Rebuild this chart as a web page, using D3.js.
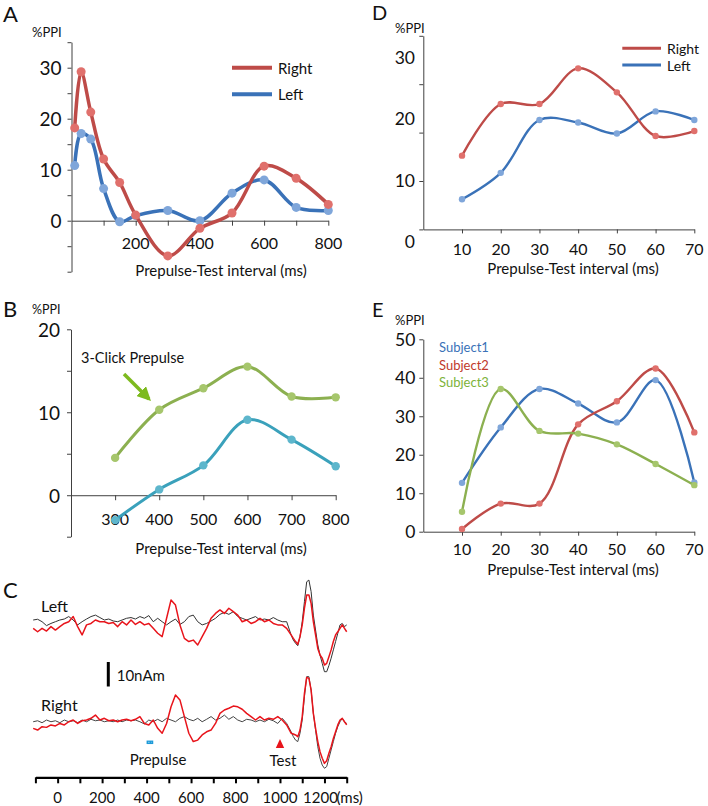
<!DOCTYPE html>
<html><head><meta charset="utf-8">
<script src="https://cdn.jsdelivr.net/npm/d3@7"></script>
<style>body{margin:0;background:#fff}svg{display:block}</style>
</head><body><svg id="c" width="708" height="806"></svg>
<script>
// ---------------- DATA ----------------
// Panel A
const aInterval = [10,30,60,100,150,200,300,400,500,600,700,800];
const aRight = [18.2,29.2,21.3,12.1,7.5,1.1,-6.9,-1.5,1.5,10.7,8.3,3.2];
const aLeft  = [10.8,17.1,16.0,6.3,-0.2,1.0,2.0,0.0,5.4,8.0,2.6,2.0];
// Panel B
const bInterval = [300,400,500,600,700,800];
const bThreeClick = [4.5,10.3,12.9,15.5,11.9,11.8];
const bSingle     = [-3.0,0.7,3.6,9.1,6.7,3.5];
// Panel D
const dInterval = [10,20,30,40,50,60,70];
const dRight = [14.0,22.4,22.4,28.2,24.3,17.2,18.0];
const dLeft  = [6.9,11.2,19.8,19.4,17.6,21.2,19.8];
// Panel E
const eInterval = [10,20,30,40,50,60,70];
const eSubject1 = [12.7,27.1,37.1,33.3,28.4,39.4,12.8];
const eSubject2 = [0.7,7.3,7.3,27.9,33.9,42.4,25.8];
const eSubject3 = [5.2,37.1,26.2,25.5,22.7,17.6,12.1];
// Panel C (source waveforms, nAm) sampled times (ms)
const cTimes = d3.range(-110, 1040, 20).concat(d3.range(1050, 1301, 10));
const cLeftBlack = [0,0.3,-0.7,-2.3,-1.4,-0.7,0,0.4,1.4,0,-2.0,-0.7,0.4,1.4,2.0,1.0,0,0.4,-0.4,-0.7,0,0.7,1.0,0.4,1.4,0.7,1.8,-0.7,0.7,-0.7,-2.0,-0.7,0.4,-1.8,-0.7,1.4,2.0,-0.7,-2.0,-1.4,-0.4,0.7,2.3,3.1,2.3,3.4,1.4,0.7,0,0.7,1.4,0,0.4,0,1.0,0,-0.7,-0.7,
  -6.1,-8.2,-9.5,-10.5,-6.8,-0.7,7.5,15.6,16.3,11.6,2.0,-4.1,-10.2,-14.3,-17.7,-21.1,-21.1,-18.6,-15.6,-12.2,-8.8,-5.4,-2.0,-1.4,-2.7,-2.0];
const cLeftRed = [-3.4,-4.8,-3.4,-4.5,-2.7,-4.1,-2.7,-1.4,-0.7,1.4,-2.7,-6.1,-2.0,-1.4,0,-0.7,-0.7,-1.4,-1.0,-2.7,-0.7,-2.0,0,-1.8,-0.7,-2.0,-1.4,-3.4,-5.4,-6.8,0.7,8.2,6.1,-2.0,-7.5,-8.8,-8.2,-10.2,-6.8,-3.4,0.7,2.7,4.1,2.7,4.8,3.4,2.0,-0.7,0,-1.4,-0.7,0.7,-0.7,0,-1.4,-2.0,-2.0,-3.4,
  -6.1,-7.5,-8.8,-9.9,-6.8,-2.0,4.8,10.2,10.2,6.8,-0.7,-6.1,-11.6,-14.3,-15.6,-18.4,-17.7,-15.0,-12.2,-8.8,-6.1,-4.8,-3.4,-2.0,-3.4,-4.8];
const cRightBlack = [-0.3,0.1,-0.7,0.4,-0.3,0.1,-0.7,0.4,-0.3,0.1,-0.7,0.4,-0.3,0.7,0.1,0.4,-0.3,0.1,-0.3,0.4,-0.3,0.4,0.1,0.4,-0.3,-1.2,0.4,-0.3,0.7,-0.3,1.1,0.4,-0.3,1.1,1.8,0.7,0.1,1.1,-0.3,0.7,1.8,0.4,1.1,2.4,0.7,1.8,0.4,-0.3,0.7,0.4,-0.3,0.4,-0.3,0.7,0.1,-1.0,1.1,-1.0,
  -4.4,-6.4,-7.8,-8.4,-5.0,0.4,9.9,18.1,18.1,12.6,3.1,-3.7,-10.5,-15.2,-18.0,-19.3,-18.6,-15.2,-11.8,-8.4,-5.0,-2.3,-0.3,1.1,-0.3,-1.0];
const cRightRed = [-3.0,-3.7,-2.3,-2.6,-1.6,-2.0,-1.0,-1.6,-0.3,0.4,-1.0,0.1,0.4,1.1,2.4,0.4,1.1,0.1,0.4,-0.3,0.4,0.7,0.1,0.7,1.8,-1.0,-1.6,0.4,-3.0,-5.0,-1.0,5.8,10.6,8.6,1.8,-5.0,-8.4,-7.8,-5.7,-4.4,-3.7,-1.0,3.1,4.5,5.2,6.1,5.8,4.8,3.1,1.8,0.4,1.8,0.4,1.1,0.7,1.8,0.4,-1.6,
  -5.0,-5.3,-5.7,-6.4,-3.7,1.8,11.3,17.8,17.4,12.6,3.1,-3.0,-8.4,-12.5,-15.2,-17.3,-16.2,-13.2,-10.5,-7.1,-4.4,-1.6,0.4,1.1,-0.3,-1.6];
const cAxisTicks = d3.range(-100, 1301, 100);
const cAxisLabels = [0,200,400,600,800,1000,1200];
const cPrepulse = [400, 430];
const cTest = 1000;
const cScaleBar = 10; // nAm

// ---------------- DRAW ----------------
const FONT = "Lato, 'Open Sans', sans-serif";
const AXC = "#404040";
const svg = d3.select("#c").style("font-family", FONT);
svg.append("rect").attr("width",708).attr("height",806).attr("fill","#fff");

const COL = {
  redL:"#BE4B48", redM:"#E0706C",
  blueL:"#3A72B8", blueM:"#7FA6DA",
  greenL:"#8CB050", greenM:"#A6C66C",
  tealL:"#3AA1BB", tealM:"#5DB6CC"
};

function txt(x, y, s, size, opts={}) {
  return svg.append("text").attr("x",x).attr("y",y).text(s)
    .attr("font-size",size).attr("fill",opts.fill||"#111")
    .attr("text-anchor",opts.anchor||"start")
    .attr("dominant-baseline",opts.base||"auto");
}

function yAxis(x0, y, ticks, labelVals, fs, gap) {
  const g = svg.append("g").attr("transform",`translate(${x0},0)`)
    .call(d3.axisLeft(y).tickValues(ticks).tickSize(4).tickSizeOuter(0).tickFormat(""));
  g.select(".domain").attr("stroke",AXC);
  g.selectAll(".tick line").attr("stroke",AXC);
  labelVals.forEach(v => txt(x0-gap, y(v), v, fs, {anchor:"end", base:"central"}));
}
function xAxis(y0, x, ticks, labelVals, fs, off, tsize=5) {
  const g = svg.append("g").attr("transform",`translate(0,${y0})`)
    .call(d3.axisBottom(x).tickValues(ticks).tickSize(tsize).tickSizeOuter(0).tickFormat(""));
  g.select(".domain").attr("stroke",AXC);
  g.selectAll(".tick line").attr("stroke",AXC);
  labelVals.forEach(v => txt(x(v), y0+off, v, fs, {anchor:"middle", base:"central"}));
  return g;
}
function series(xs, ys, x, y, lc, mc, lw, r) {
  const pts = xs.map((d,i)=>[x(d), y(ys[i])]);
  svg.append("path").attr("d", d3.line().curve(d3.curveCatmullRom.alpha(0.5))(pts))
    .attr("fill","none").attr("stroke",lc).attr("stroke-width",lw).attr("stroke-linecap","round");
  svg.append("g").selectAll("circle").data(pts).join("circle")
    .attr("cx",d=>d[0]).attr("cy",d=>d[1]).attr("r",r).attr("fill",mc);
}

// ---- Panel A ----
{
  const x = d3.scaleLinear().domain([0,800]).range([71.5,328.3]);
  const y = d3.scaleLinear().domain([-10,35]).range([271.7,42.2]);
  yAxis(71.5, y, d3.range(-10,36,5), [0,10,20,30], 19, 10);
  xAxis(y(0), x, d3.range(100,801,100), [200,400,600,800], 16, 22);
  series(aInterval, aLeft, x, y, COL.blueL, COL.blueM, 3.5, 4.5);
  series(aInterval, aRight, x, y, COL.redL, COL.redM, 3.5, 4.5);
  txt(3, 22, "A", 22);
  txt(32, 37, "%PPI", 13);
  txt(221, 276, "Prepulse-Test interval (ms)", 15, {anchor:"middle"});
  [["Right",COL.redL,67.7],["Left",COL.blueL,94.3]].forEach(([n,c,yy])=>{
    svg.append("line").attr("x1",232).attr("x2",272).attr("y1",yy).attr("y2",yy).attr("stroke",c).attr("stroke-width",4);
    txt(278, yy, n, 15, {base:"central"});
  });
}
// ---- Panel B ----
{
  const x = d3.scaleLinear().domain([200,800]).range([71,335.7]);
  const y = d3.scaleLinear().domain([-5,20]).range([536.7,329.3]);
  yAxis(71, y, d3.range(-5,21,5), [0,10,20], 19, 11);
  xAxis(y(0), x, d3.range(300,801,100), d3.range(300,801,100), 16, 23);
  series(bInterval, bSingle, x, y, COL.tealL, COL.tealM, 3, 4.2);
  series(bInterval, bThreeClick, x, y, COL.greenL, COL.greenM, 3, 4.2);
  txt(3, 317, "B", 22);
  txt(32, 314, "%PPI", 12.5);
  txt(221, 554, "Prepulse-Test interval (ms)", 15, {anchor:"middle"});
  txt(81, 363, "3-Click Prepulse", 14.5);
  const defs = svg.append("defs");
  defs.append("marker").attr("id","ga").attr("viewBox","0 0 10 10").attr("refX",8).attr("refY",5)
    .attr("markerWidth",4).attr("markerHeight",4).attr("orient","auto")
    .append("path").attr("d","M0,0L10,5L0,10z").attr("fill","#7DBA1E");
  svg.append("line").attr("x1",124).attr("y1",374).attr("x2",149).attr("y2",399)
    .attr("stroke","#7DBA1E").attr("stroke-width",3.5).attr("marker-end","url(#ga)");
}
// ---- Panel D ----
{
  const x = d3.scaleLinear().domain([0,70]).range([423.3,694.3]);
  const y = d3.scaleLinear().domain([2.0,33.5]).range([229.4,35.8]);
  yAxis(423.3, y, d3.range(0,5).map(i=>2+i*7.875), [], 17, 8);
  [0,10,20,30].forEach(v => txt(415, y(v), v, 17.5, {anchor:"end", base:"central"}));
  xAxis(y(2.0), x, d3.range(10,71,10), d3.range(10,71,10), 16, 19, 4);
  series(dInterval, dLeft, x, y, COL.blueL, COL.blueM, 2.4, 3.2);
  series(dInterval, dRight, x, y, COL.redL, COL.redM, 2.4, 3.2);
  txt(372, 20, "D", 20);
  txt(395, 33, "%PPI", 13);
  txt(573, 274, "Prepulse-Test interval (ms)", 15, {anchor:"middle"});
  [["Right",COL.redL,48.3],["Left",COL.blueL,65]].forEach(([n,c,yy])=>{
    svg.append("line").attr("x1",622.3).attr("x2",661).attr("y1",yy).attr("y2",yy).attr("stroke",c).attr("stroke-width",3);
    txt(667, yy, n, 14, {base:"central"});
  });
}
// ---- Panel E ----
{
  const x = d3.scaleLinear().domain([0,70]).range([423.3,694.3]);
  const y = d3.scaleLinear().domain([0,50]).range([531.7,339.3]);
  yAxis(423.3, y, d3.range(0,51,10), [0,10,20,30,40,50], 17.5, 8);
  xAxis(y(0), x, d3.range(10,71,10), d3.range(10,71,10), 16, 17, 4);
  series(eInterval, eSubject1, x, y, COL.blueL, COL.blueM, 2.4, 3.2);
  series(eInterval, eSubject2, x, y, COL.redL, COL.redM, 2.4, 3.2);
  series(eInterval, eSubject3, x, y, COL.greenL, COL.greenM, 2.4, 3.2);
  txt(372, 317, "E", 20);
  txt(395, 325, "%PPI", 13);
  txt(573, 575, "Prepulse-Test interval (ms)", 15, {anchor:"middle"});
  [["Subject1",COL.blueL,346.7],["Subject2","#C0392B",364.5],["Subject3","#7DB33A",382]].forEach(([n,c,yy])=>{
    txt(439, yy, n, 13, {base:"central", fill:c});
  });
}
// ---- Panel C ----
{
  const x = d3.scaleLinear().domain([-100,1300]).range([35.4,346.7]);
  const yL = d3.scaleLinear().domain([0,10]).range([620,595.5]);
  const yR = d3.scaleLinear().domain([0,10]).range([721,696.5]);
  const tr = (vals, y, c, w) => svg.append("path")
    .attr("d", d3.line().curve(d3.curveLinear)(cTimes.map((t,i)=>[x(t), y(vals[i])])))
    .attr("fill","none").attr("stroke",c).attr("stroke-width",w).attr("stroke-linejoin","round");
  tr(cLeftBlack, yL, "#333", 1);
  tr(cLeftRed, yL, "#E8141B", 1.5);
  tr(cRightBlack, yR, "#444", 1);
  tr(cRightRed, yR, "#E8141B", 1.5);
  txt(3, 598, "C", 22);
  txt(41, 612, "Left", 16);
  txt(41, 711, "Right", 16);
  // scale bar
  svg.append("line").attr("x1",108.3).attr("x2",108.3).attr("y1",yL(0)+42).attr("y2",yL(0)+42 + (yL(0)-yL(cScaleBar)))
    .attr("stroke","#000").attr("stroke-width",3);
  txt(116.7, 675, "10nAm", 15, {base:"central"});
  // prepulse marker
  svg.append("line").attr("x1",x(cPrepulse[0])).attr("x2",x(cPrepulse[1])).attr("y1",742.3).attr("y2",742.3)
    .attr("stroke","#1E9AD8").attr("stroke-width",3.5);
  svg.append("line").attr("x1",x(cPrepulse[0])+1.5).attr("x2",x(cPrepulse[1])-1.5).attr("y1",742.3).attr("y2",742.3)
    .attr("stroke","#8FD0F0").attr("stroke-width",1).attr("stroke-dasharray","1.5,1.5");
  txt(158, 765, "Prepulse", 15, {anchor:"middle"});
  const tx = x(cTest);
  svg.append("path").attr("d",`M${tx},739L${tx+4.2},748L${tx-4.2},748Z`).attr("fill","#E8141B");
  txt(283, 766, "Test", 15, {anchor:"middle"});
  const g = svg.append("g").attr("transform","translate(0,777.3)")
    .call(d3.axisBottom(x).tickValues(cAxisTicks).tickSize(6).tickSizeOuter(0).tickFormat(""));
  g.select(".domain").attr("stroke","#000").attr("stroke-width",2.2);
  g.selectAll(".tick line").attr("stroke","#000").attr("stroke-width",2);
  cAxisLabels.forEach(v => txt(x(v) - (v===1200?4:0), 797, v, 15, {anchor:"middle", base:"central"}));
  txt(x(1200)+12, 797, "(ms)", 15, {base:"central"});
}
</script></body></html>
